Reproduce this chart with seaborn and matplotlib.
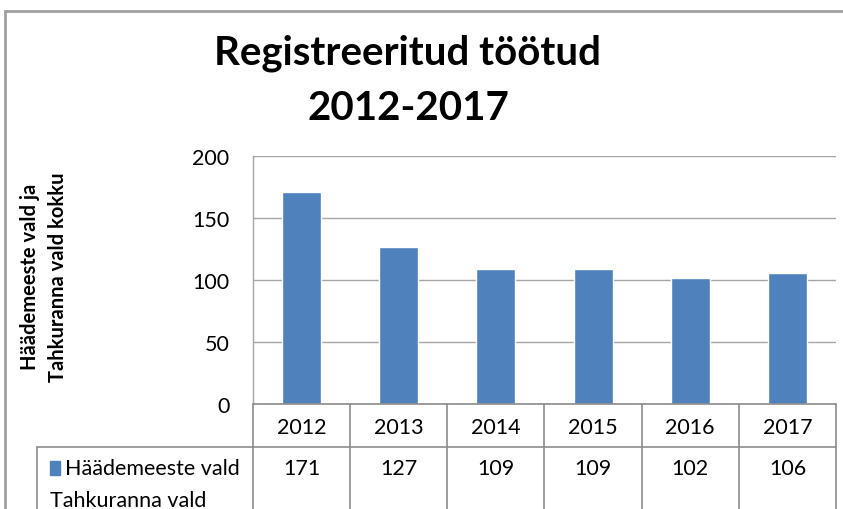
import pandas as pd
import matplotlib.pyplot as plt
import seaborn as sns
from matplotlib.patches import Rectangle
from matplotlib.lines import Line2D
from matplotlib.transforms import blended_transform_factory

years = ['2012', '2013', '2014', '2015', '2016', '2017']
haademeeste = [171, 127, 109, 109, 102, 106]
series_names = ['Häädemeeste vald', 'Tahkuranna vald']
title = 'Registreeritud töötud\n2012-2017'
ylabel = 'Häädemeeste vald ja\nTahkuranna vald kokku'
yticks = [0, 50, 100, 150, 200]

bar_color = '#4f81bd'
grid_color = '#a6a6a6'

df = pd.DataFrame({'year': years, 'value': haademeeste})

sns.set_style('white')
plt.rcParams['font.family'] = ['Lato', 'DejaVu Sans']
plt.rcParams['text.color'] = 'black'
plt.rcParams['ytick.color'] = 'black'

W, H = 843, 510
fig = plt.figure(figsize=(W / 100, H / 100), dpi=100)
ax = fig.add_axes([253 / W, 1 - 405 / H, (836 - 253) / W, (405 - 157) / H])

sns.barplot(data=df, x='year', y='value', color=bar_color, width=0.4,
            saturation=1, ax=ax, zorder=3)
ax.set_ylim(0, 200)
ax.set_xlim(-0.5, len(years) - 0.5)
ax.set_yticks(yticks)
ax.set_yticklabels([str(t) for t in yticks], fontsize=15.5)
ax.tick_params(axis='y', length=0, pad=17, labelcolor='black')
ax.set_xticks([])
ax.set_xlabel('')
ax.set_ylabel('')
ax.yaxis.grid(True, color=grid_color, lw=1, zorder=0)
for s in ['top', 'right', 'bottom']:
    ax.spines[s].set_visible(False)
ax.spines['left'].set_color(grid_color)
ax.spines['left'].set_linewidth(1)

# outer chart border
fig.patches.append(Rectangle((5 / W, -0.1), 1.2, 1 - 12 / H + 0.1,
                             transform=fig.transFigure, fill=False,
                             edgecolor='#a0a0a0', lw=2))

fig.text(408 / W, 1 - 81 / H, title, ha='center', va='center',
         fontsize=29, fontweight='bold', linespacing=1.6, color='black')
fig.text(44 / W, 1 - 277 / H, ylabel, ha='center', va='center',
         rotation=90, fontsize=14.5, fontweight='bold', linespacing=1.45,
         color='black')

# data table below the axis
tr = blended_transform_factory(ax.transData, fig.transFigure)
y0, y1, y2 = 1 - 405 / H, 1 - 448 / H, -0.05
n = len(years)
lines = [
    ([-0.5, n - 0.5], [y0, y0]),
    ([-0.5, n - 0.5], [y1, y1]),
    ([n - 0.5, n - 0.5], [y0, y2]),
]
for i in range(n):
    lines.append(([i - 0.5, i - 0.5], [y0, y2]))
for xs, ys in lines:
    fig.add_artist(Line2D(xs, ys, transform=tr, color='#8c8c8c', lw=1.2))
fig.add_artist(Line2D([37 / W, 253 / W], [y1, y1], transform=fig.transFigure,
                      color='#8c8c8c', lw=1.2))
fig.add_artist(Line2D([37 / W, 37 / W], [y1, y2], transform=fig.transFigure,
                      color='#8c8c8c', lw=1.2))

fs = 15.5
for i, (yr, v) in enumerate(zip(years, haademeeste)):
    fig.text(i, 1 - 428 / H, yr, transform=tr, ha='center', va='center', fontsize=fs)
    fig.text(i, 1 - 469 / H, str(v), transform=tr, ha='center', va='center', fontsize=fs)

fig.patches.append(Rectangle((50 / W, 1 - 476 / H), 10 / W, 14 / H,
                             transform=fig.transFigure, color=bar_color))
fig.text(65 / W, 1 - 469 / H, series_names[0], ha='left', va='center', fontsize=fs)
fig.text(50 / W, 1 - 501 / H, series_names[1], ha='left', va='center', fontsize=fs)

fig.savefig('out.png', dpi=100)
